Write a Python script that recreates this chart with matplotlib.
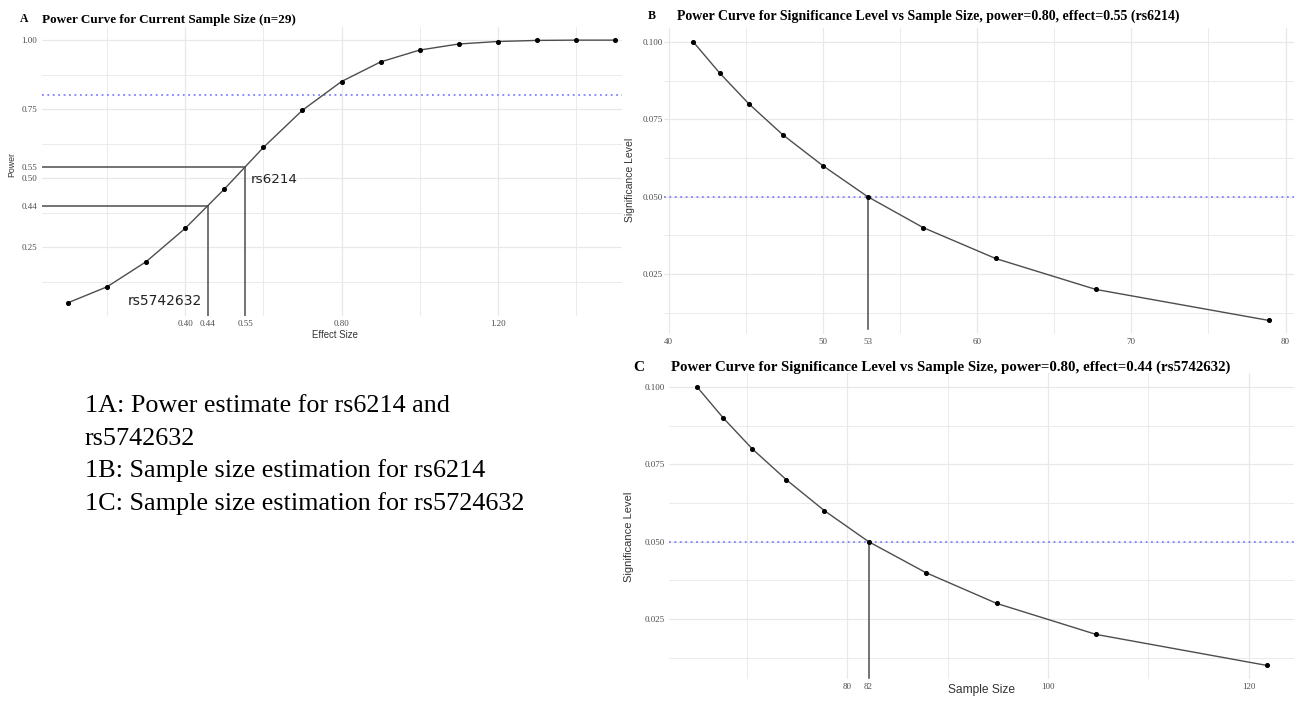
import numpy as np
import matplotlib
matplotlib.use("Agg")
import matplotlib.pyplot as plt

# ---------------- data ----------------
effect_sizes = [0.1, 0.2, 0.3, 0.4, 0.5, 0.6, 0.7, 0.8, 0.9, 1.0, 1.1, 1.2, 1.3, 1.4, 1.5]
power_values = [0.048, 0.106, 0.197, 0.318, 0.460, 0.611, 0.746, 0.850, 0.921,
                0.964, 0.986, 0.995, 0.999, 1.000, 1.000]
annot_names = ["rs5742632", "rs6214"]
annot_effects = [0.457, 0.554]
annot_labels = ["0.44", "0.55"]
target_power = 0.80

alpha_levels = [0.10, 0.09, 0.08, 0.07, 0.06, 0.05, 0.04, 0.03, 0.02, 0.01]
n_rs6214 = [41.6, 43.3, 45.2, 47.4, 50.0, 52.9, 56.5, 61.2, 67.7, 78.9]
n_rs5742632 = [65.0, 67.6, 70.5, 73.9, 77.7, 82.1, 87.8, 94.9, 104.8, 121.8]
target_alpha = 0.05

a_xticks = [0.40, 0.80, 1.20]
a_xtick_labels = ["0.40", "0.80", "1.20"]
a_yticks = [1.00, 0.75, 0.50, 0.25]
a_ytick_labels = ["1.00", "0.75", "0.50", "0.25"]
b_xticks = [40, 50, 60, 70, 80]
c_xticks = [80, 100, 120]
bc_yticks = [0.100, 0.075, 0.050, 0.025]

title_a = "Power Curve for Current Sample Size (n=29)"
title_b = "Power Curve for Significance Level vs Sample Size, power=0.80, effect=0.55 (rs6214)"
title_c = "Power Curve for Significance Level vs Sample Size, power=0.80, effect=0.44 (rs5742632)"
notes = ["1A: Power estimate for rs6214 and", "rs5742632",
         "1B: Sample size estimation for rs6214",
         "1C: Sample size estimation for rs5724632"]

# ---------------- layout helpers ----------------
W, H = 1294, 704
fig = plt.figure(figsize=(W / 100, H / 100), dpi=100)
fig.patch.set_facecolor("white")
renderer = fig.canvas.get_renderer()

SERIF = "Liberation Serif"
SANS = "Liberation Sans"
GRID = "#e8e8e8"
LINE = "#4d4d4d"
BLUE = "#8080ff"
TICKC = "#4d4d4d"


def ax_at(l, t, r, b):
    a = fig.add_axes([l / W, 1 - b / H, (r - l) / W, (b - t) / H])
    for s in a.spines.values():
        s.set_visible(False)
    a.tick_params(length=0)
    a.set_facecolor("white")
    return a


def fit_text(text, x0, x1, yc, **kw):
    t = fig.text(x0 / W, 1 - yc / H, text, ha="left", va="center", fontsize=10, **kw)
    w = t.get_window_extent(renderer=renderer).width
    t.set_fontsize(10 * (x1 - x0) / w)
    return t


def fit_vtext(text, xc, y0, y1, **kw):
    t = fig.text(xc / W, 1 - (y0 + y1) / 2 / H, text, ha="center", va="center",
                 rotation=90, fontsize=10, **kw)
    h = t.get_window_extent(renderer=renderer).height
    t.set_fontsize(10 * (y1 - y0) / h)
    return t


def grid(ax, xs_major, xs_minor, ys_major, ys_minor):
    for x in xs_major:
        ax.axvline(x, color=GRID, lw=0.9, zorder=0)
    for x in xs_minor:
        ax.axvline(x, color=GRID, lw=0.6, zorder=0)
    for y in ys_major:
        ax.axhline(y, color=GRID, lw=0.9, zorder=0)
    for y in ys_minor:
        ax.axhline(y, color=GRID, lw=0.6, zorder=0)


def tick_style(ax, size=6.5):
    for lab in ax.get_xticklabels() + ax.get_yticklabels():
        lab.set_fontfamily(SERIF)
        lab.set_fontsize(size)
        lab.set_color(TICKC)


# ---------------- panel A ----------------
axA = ax_at(41.5, 27, 622, 316)
axA.set_xlim(0.032, 1.518)
axA.set_ylim(0.0, 1.0476)
grid(axA, [0.4, 0.8, 1.2], [0.2, 0.6, 1.0, 1.4],
     [0.25, 0.5, 0.75, 1.0], [0.125, 0.375, 0.625, 0.875])
axA.axhline(target_power, color=BLUE, lw=1.3, ls=(0, (1, 2)), zorder=1)
axA.plot(effect_sizes, power_values, color=LINE, lw=1.0, zorder=2)
axA.scatter(effect_sizes, power_values, s=7, color="black", zorder=3)

annot_power = list(np.interp(annot_effects, effect_sizes, power_values))
for e, p in zip(annot_effects, annot_power):
    axA.plot([0.032, e], [p, p], color=LINE, lw=1.1, zorder=2)
    axA.plot([e, e], [0.0, p], color=LINE, lw=1.1, zorder=2)

xt = sorted(a_xticks + annot_effects)
xl = [dict(zip(a_xticks + annot_effects, a_xtick_labels + annot_labels))[v] for v in xt]
axA.set_xticks(xt)
axA.set_xticklabels(xl)
yt = a_yticks + annot_power
yl = a_ytick_labels + annot_labels
axA.set_yticks(yt)
axA.set_yticklabels(yl)
axA.tick_params(axis="x", pad=3)
axA.tick_params(axis="y", pad=3)
tick_style(axA)

axA.text(0.567, 0.483, annot_names[1], fontsize=9.7, family="DejaVu Sans",
         color="#222222", ha="left", va="baseline")
axA.text(0.253, 0.040, annot_names[0], fontsize=10, family="DejaVu Sans",
         color="#222222", ha="left", va="baseline")

fit_text("A", 20, 28.5, 19.5, family=SERIF, weight="bold")
fit_text(title_a, 41.5, 296, 19.5, family=SERIF, weight="bold")
fit_text("Effect Size", 312, 358, 335, family=SANS, color="#333333")
fit_vtext("Power", 12, 152, 177, family=SANS, color="#333333")

# ---------------- panel B ----------------
axB = ax_at(664, 28, 1294, 334.3)
axB.set_xlim(39.7, 80.55)
axB.set_ylim(0.0055, 0.1045)
grid(axB, [40, 50, 60, 70, 80], [45, 55, 65, 75],
     [0.025, 0.05, 0.075, 0.1], [0.0125, 0.0375, 0.0625, 0.0875])
axB.axhline(target_alpha, color=BLUE, lw=1.3, ls=(0, (1, 2)), zorder=1)
axB.plot(n_rs6214, alpha_levels, color=LINE, lw=1.0, zorder=2)
axB.scatter(n_rs6214, alpha_levels, s=7, color="black", zorder=3)
nB = float(np.interp(target_alpha, alpha_levels[::-1], n_rs6214[::-1]))
axB.plot([nB, nB], [0.0072, target_alpha], color=LINE, lw=1.1, zorder=2)
bt = sorted(b_xticks + [nB])
axB.set_xticks(bt)
axB.set_xticklabels([f"{v:.0f}" for v in bt])
axB.set_yticks(bc_yticks)
axB.set_yticklabels([f"{v:.3f}" for v in bc_yticks])
axB.tick_params(axis="x", pad=3)
axB.tick_params(axis="y", pad=1)
tick_style(axB)

fit_text("B", 648, 656, 16, family=SERIF, weight="bold")
fit_text(title_b, 676.7, 1179, 16, family=SERIF, weight="bold")
fit_vtext("Significance Level", 630, 138, 222, family=SANS, color="#333333")

# ---------------- panel C ----------------
axC = ax_at(669, 373, 1294, 679.3)
axC.set_xlim(62.2, 124.53)
axC.set_ylim(0.0055, 0.1045)
grid(axC, [80, 100, 120], [70, 90, 110],
     [0.025, 0.05, 0.075, 0.1], [0.0125, 0.0375, 0.0625, 0.0875])
axC.axhline(target_alpha, color=BLUE, lw=1.3, ls=(0, (1, 2)), zorder=1)
axC.plot(n_rs5742632, alpha_levels, color=LINE, lw=1.0, zorder=2)
axC.scatter(n_rs5742632, alpha_levels, s=7, color="black", zorder=3)
nC = float(np.interp(target_alpha, alpha_levels[::-1], n_rs5742632[::-1]))
axC.plot([nC, nC], [0.006, target_alpha], color=LINE, lw=1.1, zorder=2)
ct = sorted(c_xticks + [nC])
axC.set_xticks(ct)
axC.set_xticklabels([f"{v:.0f}" for v in ct])
axC.set_yticks(bc_yticks)
axC.set_yticklabels([f"{v:.3f}" for v in bc_yticks])
axC.tick_params(axis="x", pad=3)
axC.tick_params(axis="y", pad=3)
tick_style(axC)

fit_text("C", 633, 644, 367, family=SERIF, weight="bold")
fit_text(title_c, 671, 1233, 367, family=SERIF, weight="bold")
fit_vtext("Significance Level", 629, 492, 582, family=SANS, color="#333333")
fit_text("Sample Size", 947.7, 1015, 690, family=SANS, color="#333333")

# ---------------- notes ----------------
probe = fig.text(85 / W, 0.5, notes[3], fontsize=10, family=SERIF)
wn = probe.get_window_extent(renderer=renderer).width
probe.remove()
note_size = 10 * (525 - 85) / wn
for line, base in zip(notes, [412, 445, 477, 510]):
    fig.text(85 / W, 1 - base / H, line, fontsize=note_size, family=SERIF,
             color="black", ha="left", va="baseline")

fig.savefig("out.png", dpi=100, facecolor="white")
